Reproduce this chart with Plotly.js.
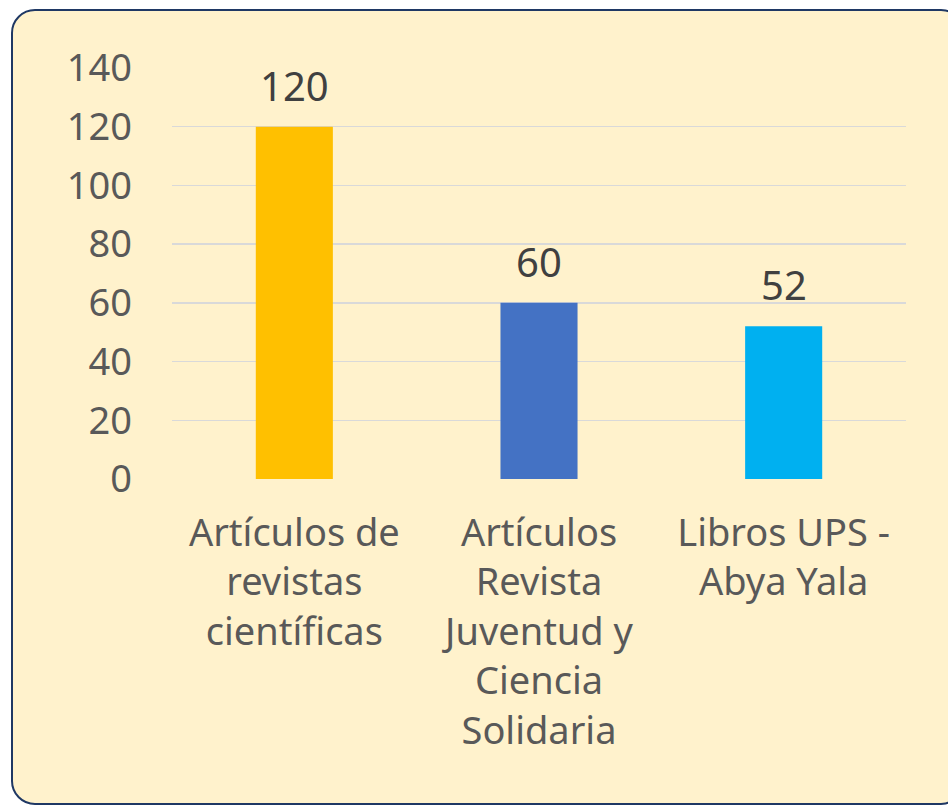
<!DOCTYPE html>
<html>
<head>
<meta charset="utf-8">
<script src="https://cdn.plot.ly/plotly-3.0.1.min.js"></script>
<style>
  html, body { margin: 0; padding: 0; background: #ffffff; width: 948px; height: 806px; overflow: hidden; }
  #frame { position: absolute; left: 11px; top: 9px; width: 950px; height: 792px;
           background: #FFF2CC; border: 2.5px solid #1F3864; border-radius: 24px; }
  #chart { position: absolute; left: 0; top: 0; width: 948px; height: 806px; }
</style>
</head>
<body>
<div id="frame"></div>
<div id="chart"></div>
<script>
const categories = [
  "Artículos de<br>revistas<br>científicas",
  "Artículos<br>Revista<br>Juventud y<br>Ciencia<br>Solidaria",
  "Libros UPS -<br>Abya Yala"
];
const values = [120, 60, 52];
const barColors = ["#FFC000", "#4472C4", "#00B0F0"];
const yTicks = [0, 20, 40, 60, 80, 100, 120, 140];

const FONT = "Noto Sans, Open Sans, sans-serif";

const trace = {
  type: "bar",
  x: categories,
  y: values,
  marker: { color: barColors },
  hoverinfo: "none"
};

const annotations = values.map((v, i) => ({
  x: categories[i], y: v, xref: "x", yref: "y",
  text: String(v), showarrow: false, yanchor: "bottom", yshift: 12,
  font: { family: FONT, size: 40, color: "#404040" }
}));

const layout = {
  width: 948, height: 806,
  margin: { l: 172, r: 42, t: 68, b: 327 },
  paper_bgcolor: "rgba(0,0,0,0)",
  plot_bgcolor: "rgba(0,0,0,0)",
  showlegend: false,
  bargap: 0.685,
  font: { family: FONT, size: 34, color: "#595959" },
  xaxis: {
    type: "category",
    showgrid: false, showline: false, zeroline: false, ticks: "",
    tickfont: { family: FONT, size: 38, color: "#595959" },
    ticklabelstandoff: 28,
    tickangle: 0
  },
  yaxis: {
    range: [0, 140],
    tickvals: yTicks,
    ticktext: yTicks.map(String),
    showgrid: true, gridcolor: "#D9D9D9", gridwidth: 1.5,
    zeroline: false, showline: false, ticks: "",
    tickfont: { family: FONT, size: 38, color: "#595959" },
    ticklabelstandoff: 39
  },
  annotations: annotations
};

Plotly.newPlot("chart", [trace], layout, { displayModeBar: false, staticPlot: true });
</script>
</body>
</html>
